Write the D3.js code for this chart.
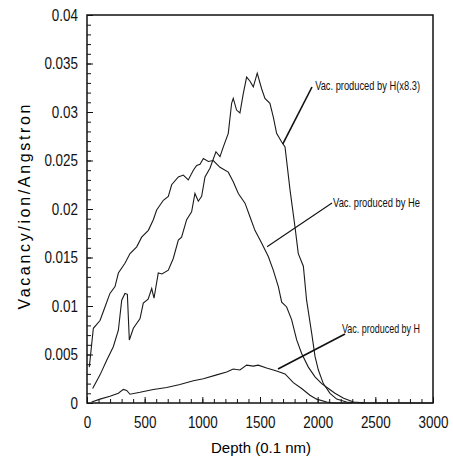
<!DOCTYPE html>
<html>
<head>
<meta charset="utf-8"/>
<title>Vacancy profile</title>
<script src="https://d3js.org/d3.v7.min.js"></script>
<style>
  body { margin: 0; background: #fff; }
  .tick text { font-family: "Liberation Sans", Arial, sans-serif; font-size: 16px; fill: #111; }
  .axis path, .axis line { stroke: #111; }
</style>
</head>
<body>
<svg width="453" height="469"></svg>
<script>
// depth in 0.1 nm, values in vacancy/ion/angstrom
var hScaledDepth = [49, 113, 171, 228, 272, 301, 329, 350, 367, 402, 460, 488, 530, 561, 581, 618, 650, 705, 748, 792, 820, 864, 907, 936, 965, 994, 1023, 1066, 1118, 1153, 1182, 1225, 1254, 1268, 1297, 1326, 1355, 1384, 1412, 1442, 1476, 1514, 1543, 1586, 1615, 1644, 1688, 1717, 1760, 1803, 1832, 1876, 1904, 1948, 1977, 2006, 2049, 2107, 2165, 2250, 2320, 2400];
var hScaledVal = [0.0015, 0.0029, 0.0044, 0.0058, 0.0075, 0.0106, 0.0113, 0.0112, 0.0065, 0.0077, 0.0087, 0.0103, 0.0107, 0.0118, 0.0108, 0.0134, 0.0133, 0.0137, 0.0149, 0.0168, 0.0171, 0.0189, 0.0197, 0.0216, 0.0208, 0.0213, 0.0233, 0.0242, 0.0259, 0.0254, 0.0264, 0.0278, 0.0309, 0.0314, 0.0302, 0.0299, 0.0319, 0.0336, 0.0332, 0.0326, 0.0340, 0.0324, 0.0314, 0.0309, 0.0295, 0.0278, 0.0269, 0.0264, 0.0220, 0.0182, 0.0154, 0.0141, 0.0106, 0.0072, 0.0048, 0.0034, 0.0020, 0.0010, 0.0004, 0.0001, 0.00003, 0];

var heDepth = [20, 55, 113, 156, 199, 243, 272, 329, 373, 431, 474, 532, 575, 604, 662, 705, 734, 792, 835, 878, 922, 951, 980, 1009, 1052, 1095, 1153, 1225, 1268, 1312, 1370, 1413, 1456, 1514, 1572, 1615, 1659, 1688, 1731, 1774, 1818, 1861, 1919, 1977, 2035, 2093, 2150, 2225, 2311, 2427, 2600, 3000];
var heVal = [0.0037, 0.0077, 0.0085, 0.0099, 0.0113, 0.0120, 0.0134, 0.0144, 0.0154, 0.0161, 0.0171, 0.0178, 0.0189, 0.0199, 0.0209, 0.0213, 0.0225, 0.0233, 0.0235, 0.0230, 0.0240, 0.0245, 0.0246, 0.0252, 0.0249, 0.0250, 0.0243, 0.0238, 0.0228, 0.0216, 0.0206, 0.0192, 0.0178, 0.0165, 0.0151, 0.0137, 0.0120, 0.0104, 0.0099, 0.0086, 0.0065, 0.0051, 0.0037, 0.0027, 0.0020, 0.0015, 0.0010, 0.0005, 0.0001, 0, 0, 0];

var hDepth = [40, 113, 199, 272, 315, 344, 373, 460, 575, 691, 806, 922, 1009, 1124, 1211, 1268, 1326, 1384, 1442, 1485, 1557, 1644, 1717, 1789, 1861, 1933, 1991, 2078, 2136, 2300];
var hVal = [0.0001, 0.0004, 0.0007, 0.0010, 0.0014, 0.0013, 0.0009, 0.0011, 0.0014, 0.0016, 0.0019, 0.0023, 0.0025, 0.0029, 0.0032, 0.0035, 0.0034, 0.0039, 0.0038, 0.0039, 0.0036, 0.0033, 0.0030, 0.0021, 0.0015, 0.0008, 0.0004, 0.0001, 0, 0];

var labels = ["Vac. produced by H(x8.3)", "Vac. produced by He", "Vac. produced by H"];
// where each leader line touches its curve
var leaderDepth = [1697, 1561, 1656];
var leaderVal = [0.0267, 0.0161, 0.0035];

var xTicks = [0, 500, 1000, 1500, 2000, 2500, 3000];
var yTicks = [0, 0.005, 0.01, 0.015, 0.02, 0.025, 0.03, 0.035, 0.04];

var svg = d3.select("svg");
var pLeft = 87, pRight = 433, pTop = 15, pBottom = 403;
var squeeze = 0.84;

var x = d3.scaleLinear().domain([0, 3000]).range([pLeft, pRight]);
var y = d3.scaleLinear().domain([0, 0.04]).range([pBottom, pTop]);

// minor ticks (inside)
svg.append("g")
  .attr("class", "axis")
  .attr("transform", "translate(0," + pBottom + ")")
  .call(d3.axisBottom(x).tickValues(d3.range(0, 3001, 100)).tickSize(-4).tickFormat(""))
  .select(".domain").remove();
svg.append("g")
  .attr("class", "axis")
  .attr("transform", "translate(" + pLeft + ",0)")
  .call(d3.axisLeft(y).tickValues(d3.range(0, 41).map(function(i){ return i / 1000; })).tickSize(-4).tickFormat(""))
  .select(".domain").remove();

// major ticks + labels
var xa = svg.append("g")
  .attr("class", "axis")
  .attr("transform", "translate(0," + pBottom + ")")
  .call(d3.axisBottom(x).tickValues(xTicks).tickSizeInner(-6).tickSizeOuter(0).tickPadding(14).tickFormat(d3.format("d")));
xa.select(".domain").remove();
xa.selectAll(".tick text").attr("transform", "scale(" + squeeze + ",1)");

var ya = svg.append("g")
  .attr("class", "axis")
  .attr("transform", "translate(" + pLeft + ",0)")
  .call(d3.axisLeft(y).tickValues(yTicks).tickSizeInner(-6).tickSizeOuter(0).tickPadding(10)
    .tickFormat(function(d){ return d === 0 ? "0" : String(+d.toFixed(3)); }));
ya.select(".domain").remove();
ya.selectAll(".tick text").attr("x", -9 / squeeze).attr("transform", "scale(" + squeeze + ",1)");

// frame
svg.append("rect")
  .attr("x", pLeft).attr("y", pTop)
  .attr("width", pRight - pLeft).attr("height", pBottom - pTop)
  .attr("fill", "none").attr("stroke", "#111").attr("stroke-width", 1.5);

var line = d3.line().x(function(d){ return x(d[0]); }).y(function(d){ return y(d[1]); });

[[hScaledDepth, hScaledVal], [heDepth, heVal], [hDepth, hVal]].forEach(function(s){
  svg.append("path")
    .datum(d3.zip(s[0], s[1]))
    .attr("d", line)
    .attr("fill", "none")
    .attr("stroke", "#1a1a1a")
    .attr("stroke-width", 1.1);
});

// annotations, squeezed to the narrow look of the original
var textPos = [[420, 90, 105], [420, 207, 87], [420, 333, 78]];
var lineStart = [[312, 87], [332, 203], [345, 334]];
labels.forEach(function(t, i){
  svg.append("line")
    .attr("x1", lineStart[i][0]).attr("y1", lineStart[i][1])
    .attr("x2", x(leaderDepth[i])).attr("y2", y(leaderVal[i]))
    .attr("stroke", "#111").attr("stroke-width", i === 1 ? 1.1 : 1.6);
  var tx = svg.append("text")
    .attr("text-anchor", "end")
    .style("font-family", "'Liberation Sans', Arial, sans-serif")
    .style("font-size", "13px")
    .style("fill", "#111")
    .text(t);
  var w = tx.node().getComputedTextLength();
  var k = textPos[i][2] / w;
  tx.attr("transform", "translate(" + textPos[i][0] + "," + textPos[i][1] + ") scale(" + k + ",1)");
});

// axis titles
svg.append("text")
  .attr("x", 261).attr("y", 453)
  .attr("text-anchor", "middle")
  .style("font-family", "'Liberation Sans', Arial, sans-serif")
  .style("font-size", "15px")
  .text("Depth (0.1 nm)");

svg.append("text")
  .attr("transform", "translate(30,207) rotate(-90)")
  .attr("text-anchor", "middle")
  .style("font-family", "'Liberation Sans', Arial, sans-serif")
  .style("font-size", "16px")
  .attr("textLength", 205).attr("lengthAdjust", "spacing")
  .text("Vacancy/ion/Angstron");
</script>
</body>
</html>
